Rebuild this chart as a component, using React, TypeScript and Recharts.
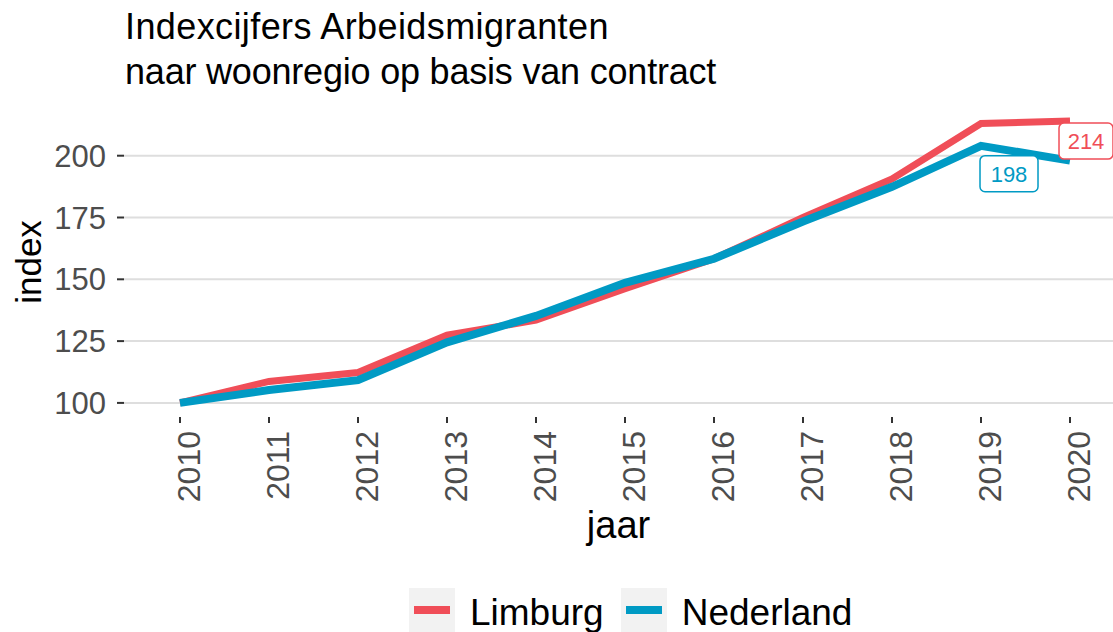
import React from 'react';
import { LineChart, Line, XAxis, YAxis, ReferenceLine } from 'recharts';

const years = [2010, 2011, 2012, 2013, 2014, 2015, 2016, 2017, 2018, 2019, 2020];
const limburg = [100, 108.7, 112.3, 127.4, 133.5, 146.2, 158.3, 175, 190.6, 213, 214];
const nederland = [100, 105.2, 109.2, 124.5, 135.2, 148.6, 158.3, 173.4, 187.4, 204, 198];
const yTicks = [100, 125, 150, 175, 200];
const seriesNames = ['Limburg', 'Nederland'];
const title = 'Indexcijfers Arbeidsmigranten';
const subtitle = 'naar woonregio op basis van contract';

const RED = '#F04E58';
const BLUE = '#009AC4';
const FONT = '"Liberation Sans", Arial, sans-serif';

const data = years.map((y, i) => ({ year: y, Limburg: limburg[i], Nederland: nederland[i] }));

const XTick = (props: any) => {
  const { x, y, payload } = props;
  return (
    <text
      transform={`translate(${x + 20},${y + 6}) rotate(-90)`}
      textAnchor="end"
      fontSize={32}
      fill="#4D4D4D"
      fontFamily={FONT}
    >
      {payload.value}
    </text>
  );
};

const YTick = (props: any) => {
  const { x, y, payload } = props;
  return (
    <text x={x - 9} y={y + 11} textAnchor="end" fontSize={31} fill="#4D4D4D" fontFamily={FONT}>
      {payload.value}
    </text>
  );
};

const YLabel = (props: any) => {
  const vb = props.viewBox || {};
  const cy = (vb.y || 0) + (vb.height || 0) / 2;
  return (
    <text transform={`translate(41,${cy}) rotate(-90)`} textAnchor="middle" fontSize={35} fill="#000" fontFamily={FONT}>
      index
    </text>
  );
};

const XLabel = (props: any) => {
  const vb = props.viewBox || {};
  const cx = (vb.x || 0) + (vb.width || 0) / 2;
  return (
    <text x={cx} y={538} textAnchor="middle" fontSize={38} fill="#000" fontFamily={FONT}>
      jaar
    </text>
  );
};

const makeEndLabel = (color: string, dx: number, dy: number, w: number, h: number) => (props: any) => {
  const { x, y, index, value } = props;
  if (index !== years.length - 1) return null;
  const cx = x + dx;
  const cy = y + dy;
  return (
    <g>
      <rect x={cx - w / 2} y={cy - h / 2} width={w} height={h} rx={5} ry={5} fill="#fff" stroke={color} strokeWidth={1.5} />
      <text x={cx} y={cy + 8} textAnchor="middle" fontSize={22} fill={color} fontFamily={FONT}>
        {Math.round(value)}
      </text>
    </g>
  );
};

export default function App() {
  return (
    <div style={{ position: 'absolute', left: 0, top: 0, width: 1113, height: 632, background: '#fff', overflow: 'hidden', fontFamily: FONT }}>
      <div style={{ position: 'absolute', left: 125, top: 5, fontSize: 36, lineHeight: '44px', color: '#000', whiteSpace: 'nowrap', letterSpacing: 0.4 }}>
        {title}
      </div>
      <div style={{ position: 'absolute', left: 125, top: 50, fontSize: 36, lineHeight: '44px', color: '#000', whiteSpace: 'nowrap', letterSpacing: -0.2 }}>
        {subtitle}
      </div>
      <LineChart width={1113} height={632} data={data} margin={{ top: 107, right: 0, left: 0, bottom: 0 }}>
        <XAxis
          dataKey="year"
          type="number"
          domain={[2009.371, 2020.483]}
          allowDataOverflow
          ticks={years}
          interval={0}
          height={215}
          axisLine={false}
          tickLine={{ stroke: '#333', strokeWidth: 2 }}
          tickSize={6}
          tick={<XTick />}
          label={<XLabel />}
        />
        <YAxis
          type="number"
          domain={[94.3, 219.7]}
          allowDataOverflow
          ticks={yTicks}
          width={124}
          axisLine={false}
          tickLine={{ stroke: '#333', strokeWidth: 2 }}
          tickSize={7}
          tick={<YTick />}
          label={<YLabel />}
        />
        {yTicks.map((t) => (
          <ReferenceLine key={t} y={t} stroke="#DEDEDE" strokeWidth={2} ifOverflow="extendDomain" />
        ))}
        <Line
          type="linear"
          dataKey="Limburg"
          stroke={RED}
          strokeWidth={7}
          dot={false}
          isAnimationActive={false}
          label={makeEndLabel(RED, 16, 20, 54, 36)}
        />
        <Line
          type="linear"
          dataKey="Nederland"
          stroke={BLUE}
          strokeWidth={8}
          dot={false}
          isAnimationActive={false}
          label={makeEndLabel(BLUE, -61, 13, 58, 36)}
        />
      </LineChart>
      <div style={{ position: 'absolute', left: 409, top: 588, display: 'flex', alignItems: 'center', whiteSpace: 'nowrap' }}>
        {seriesNames.map((n, i) => (
          <div key={n} style={{ display: 'flex', alignItems: 'center', marginRight: 17 }}>
            <div style={{ width: 46, height: 44, background: '#F2F2F2', position: 'relative' }}>
              <div style={{ position: 'absolute', left: 5, top: 18, width: 36, height: 8, background: i === 0 ? RED : BLUE }} />
            </div>
            <span style={{ marginLeft: 15, fontSize: 37, color: '#000', lineHeight: '44px', position: 'relative', top: 3 }}>{n}</span>
          </div>
        ))}
      </div>
    </div>
  );
}
